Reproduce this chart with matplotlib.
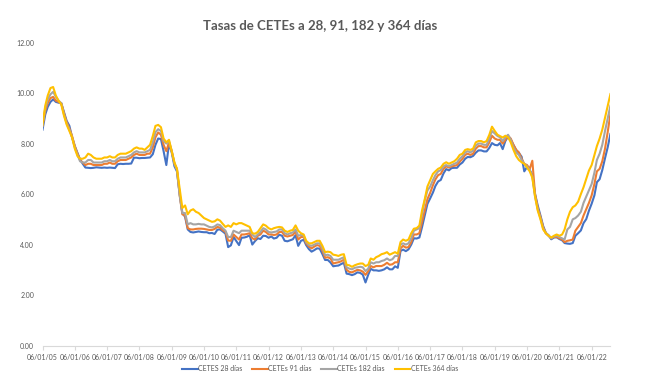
import matplotlib
matplotlib.use("Agg")
import matplotlib.pyplot as plt
import matplotlib.dates as mdates
import pandas as pd
import numpy as np

# Monthly readings, Jan 2005 - Aug 2022
cetes_28 = [
    8.55, 9.15, 9.45, 9.65, 9.75, 9.65, 9.62, 9.60, 9.25, 8.90, 8.70, 8.25,
    7.90, 7.62, 7.38, 7.20, 7.05, 7.04, 7.03, 7.04, 7.06, 7.05, 7.04, 7.05,
    7.04, 7.05, 7.04, 7.03, 7.18, 7.20, 7.19, 7.20, 7.20, 7.21, 7.44, 7.44,
    7.42, 7.43, 7.43, 7.44, 7.45, 7.58, 7.95, 8.20, 8.18, 7.70, 7.15, 8.00,
    7.65, 7.10, 6.90, 6.00, 5.25, 5.10, 4.60, 4.50, 4.48, 4.50, 4.52, 4.50,
    4.49, 4.49, 4.45, 4.46, 4.42, 4.59, 4.60, 4.52, 4.43, 3.90, 3.97, 4.30,
    4.14, 3.98, 4.27, 4.28, 4.31, 4.37, 4.00, 4.14, 4.25, 4.22, 4.35, 4.34,
    4.27, 4.32, 4.24, 4.27, 4.39, 4.35, 4.15, 4.13, 4.17, 4.21, 4.37, 3.95,
    4.15, 4.19, 3.98, 3.82, 3.72, 3.78, 3.85, 3.84, 3.62, 3.39, 3.39, 3.29,
    3.14, 3.16, 3.17, 3.23, 3.28, 2.85, 2.83, 2.79, 2.83, 2.90, 2.88, 2.81,
    2.50, 2.81, 3.04, 2.98, 2.98, 2.96, 2.98, 3.02, 3.10, 3.02, 3.02, 3.14,
    3.08, 3.75, 3.80, 3.74, 3.81, 4.00, 4.25, 4.24, 4.28, 4.69, 5.15, 5.61,
    5.83, 6.06, 6.32, 6.50, 6.56, 6.82, 6.99, 6.94, 7.03, 7.04, 7.04, 7.17,
    7.25, 7.40, 7.47, 7.46, 7.51, 7.64, 7.73, 7.73, 7.69, 7.69, 7.83, 8.02,
    7.95, 7.93, 8.02, 7.78, 8.10, 8.28, 8.15, 7.94, 7.74, 7.63, 7.48, 6.90,
    7.07, 6.95, 6.76, 6.00, 5.55, 5.15, 4.74, 4.46, 4.37, 4.21, 4.28, 4.29,
    4.22, 4.17, 4.06, 4.04, 4.03, 4.06, 4.35, 4.45, 4.56, 4.85, 5.01, 5.34,
    5.62, 5.95, 6.47, 6.59, 6.95, 7.42, 7.85, 8.38,
]
cetes_91 = [
    8.70, 9.30, 9.60, 9.80, 9.85, 9.70, 9.65, 9.60, 9.20, 8.85, 8.60, 8.30,
    7.90, 7.60, 7.35, 7.25, 7.15, 7.20, 7.20, 7.15, 7.15, 7.15, 7.15, 7.20,
    7.20, 7.25, 7.20, 7.20, 7.30, 7.35, 7.35, 7.35, 7.40, 7.45, 7.55, 7.60,
    7.55, 7.55, 7.55, 7.60, 7.60, 7.85, 8.25, 8.44, 8.35, 7.95, 7.70, 8.05,
    7.70, 7.20, 7.00, 5.95, 5.20, 5.15, 4.65, 4.60, 4.60, 4.62, 4.63, 4.63,
    4.62, 4.60, 4.58, 4.58, 4.62, 4.70, 4.67, 4.57, 4.50, 4.16, 4.15, 4.40,
    4.30, 4.20, 4.40, 4.40, 4.42, 4.45, 4.25, 4.20, 4.35, 4.40, 4.55, 4.50,
    4.40, 4.40, 4.38, 4.40, 4.50, 4.50, 4.35, 4.32, 4.35, 4.38, 4.52, 4.20,
    4.30, 4.30, 4.05, 3.92, 3.85, 3.92, 3.98, 3.95, 3.75, 3.48, 3.50, 3.45,
    3.25, 3.28, 3.30, 3.34, 3.40, 3.00, 2.92, 2.90, 2.95, 3.00, 2.98, 2.93,
    2.80, 2.95, 3.15, 3.10, 3.15, 3.15, 3.15, 3.20, 3.28, 3.20, 3.22, 3.30,
    3.30, 3.85, 3.95, 3.88, 3.90, 4.10, 4.40, 4.40, 4.45, 4.90, 5.35, 5.80,
    6.05, 6.35, 6.58, 6.75, 6.80, 7.00, 7.10, 7.05, 7.10, 7.12, 7.15, 7.28,
    7.40, 7.55, 7.60, 7.55, 7.60, 7.80, 7.90, 7.90, 7.85, 7.85, 8.05, 8.31,
    8.20, 8.15, 8.15, 8.00, 8.15, 8.30, 8.20, 7.95, 7.75, 7.65, 7.40, 7.20,
    7.15, 7.00, 7.32, 6.00, 5.45, 5.10, 4.70, 4.45, 4.35, 4.25, 4.30, 4.30,
    4.25, 4.20, 4.10, 4.15, 4.17, 4.20, 4.55, 4.70, 4.85, 5.15, 5.40, 5.65,
    5.95, 6.40, 6.90, 7.00, 7.30, 7.80, 8.45, 9.17,
]
cetes_182 = [
    8.70, 9.40, 9.75, 9.95, 10.05, 9.85, 9.70, 9.60, 9.15, 8.80, 8.55, 8.25,
    7.85, 7.55, 7.30, 7.25, 7.25, 7.35, 7.35, 7.25, 7.25, 7.25, 7.25, 7.30,
    7.30, 7.35, 7.30, 7.30, 7.40, 7.45, 7.45, 7.45, 7.50, 7.55, 7.65, 7.70,
    7.65, 7.65, 7.65, 7.70, 7.75, 8.05, 8.45, 8.57, 8.50, 8.10, 8.00, 8.10,
    7.70, 7.20, 6.95, 5.95, 5.25, 5.25, 4.80, 4.85, 4.80, 4.80, 4.82, 4.80,
    4.80, 4.75, 4.70, 4.68, 4.72, 4.80, 4.77, 4.65, 4.55, 4.30, 4.30, 4.55,
    4.50, 4.45, 4.55, 4.55, 4.55, 4.55, 4.40, 4.30, 4.40, 4.50, 4.65, 4.60,
    4.50, 4.48, 4.50, 4.52, 4.60, 4.60, 4.45, 4.40, 4.45, 4.48, 4.60, 4.35,
    4.38, 4.35, 4.10, 3.98, 3.95, 4.00, 4.05, 4.05, 3.85, 3.58, 3.60, 3.55,
    3.40, 3.40, 3.40, 3.45, 3.50, 3.10, 3.05, 3.02, 3.08, 3.10, 3.12, 3.10,
    2.95, 3.05, 3.30, 3.25, 3.30, 3.30, 3.35, 3.38, 3.45, 3.38, 3.42, 3.55,
    3.55, 4.00, 4.05, 4.00, 4.05, 4.25, 4.55, 4.60, 4.65, 5.20, 5.75, 6.14,
    6.30, 6.55, 6.75, 6.90, 6.95, 7.10, 7.15, 7.10, 7.15, 7.20, 7.25, 7.40,
    7.50, 7.65, 7.70, 7.65, 7.72, 7.92, 8.00, 8.00, 7.95, 7.95, 8.20, 8.50,
    8.40, 8.30, 8.25, 8.10, 8.25, 8.35, 8.15, 7.85, 7.65, 7.55, 7.35, 7.20,
    7.10, 6.95, 6.70, 5.90, 5.40, 5.05, 4.65, 4.45, 4.35, 4.25, 4.32, 4.35,
    4.30, 4.25, 4.20, 4.60, 4.70, 5.00, 5.05, 5.15, 5.30, 5.65, 5.90, 6.14,
    6.40, 6.85, 7.35, 7.60, 7.95, 8.50, 9.00, 9.50,
]
cetes_364 = [
    8.75, 9.50, 9.90, 10.20, 10.24, 9.90, 9.70, 9.55, 9.10, 8.75, 8.50, 8.25,
    7.80, 7.50, 7.40, 7.40, 7.45, 7.60, 7.55, 7.45, 7.40, 7.40, 7.40, 7.45,
    7.45, 7.50, 7.45, 7.45, 7.55, 7.60, 7.60, 7.60, 7.65, 7.70, 7.80, 7.85,
    7.80, 7.80, 7.75, 7.85, 7.95, 8.30, 8.70, 8.74, 8.65, 8.20, 8.05, 8.15,
    7.70, 7.25, 7.00, 6.20, 5.45, 5.55, 5.20, 5.35, 5.40, 5.30, 5.25, 5.15,
    5.05, 5.00, 4.95, 4.90, 4.92, 5.00, 4.95, 4.82, 4.70, 4.76, 4.70, 4.85,
    4.80, 4.85, 4.85, 4.80, 4.75, 4.70, 4.45, 4.43, 4.50, 4.65, 4.80, 4.75,
    4.65, 4.60, 4.65, 4.68, 4.70, 4.68, 4.55, 4.50, 4.55, 4.58, 4.76, 4.55,
    4.45, 4.40, 4.15, 4.05, 4.05, 4.10, 4.15, 4.15, 3.95, 3.70, 3.72, 3.70,
    3.60, 3.58, 3.55, 3.60, 3.62, 3.20, 3.18, 3.12, 3.18, 3.22, 3.25, 3.25,
    3.15, 3.20, 3.45, 3.40, 3.50, 3.55, 3.62, 3.65, 3.70, 3.60, 3.65, 3.70,
    3.64, 4.10, 4.20, 4.15, 4.20, 4.45, 4.63, 4.65, 4.75, 5.35, 5.80, 6.30,
    6.55, 6.80, 6.90, 7.00, 7.05, 7.20, 7.26, 7.20, 7.25, 7.30, 7.40, 7.55,
    7.60, 7.75, 7.78, 7.75, 7.80, 8.05, 8.10, 8.10, 8.05, 8.10, 8.35, 8.67,
    8.50, 8.35, 8.30, 8.24, 8.31, 8.25, 8.05, 7.75, 7.50, 7.35, 7.26, 7.20,
    7.05, 6.90, 6.65, 5.90, 5.35, 5.00, 4.60, 4.45, 4.35, 4.28, 4.35, 4.40,
    4.35, 4.40, 4.60, 5.00, 5.30, 5.48, 5.55, 5.70, 6.00, 6.27, 6.60, 6.93,
    7.15, 7.55, 7.90, 8.20, 8.55, 9.03, 9.50, 9.96,
]
series_names = ["CETES 28 días", "CETEs 91 días", "CETEs 182 días", "CETEs 364 días"]
tick_years = list(range(2005, 2023))
title = "Tasas de CETEs a 28, 91, 182 y 364 días"

colors = ["#4472C4", "#ED7D31", "#A5A5A5", "#FFC000"]

n = len(cetes_28)
dates = pd.date_range(start="2005-01-01", periods=n, freq="MS") + pd.Timedelta(days=5)

fig = plt.figure(figsize=(6.48, 3.87), dpi=100)
ax = fig.add_axes([0.0656, 0.107, 0.8764, 0.783])

for vals, name, c in zip([cetes_28, cetes_91, cetes_182, cetes_364], series_names, colors):
    ax.plot(dates, vals, color=c, lw=1.5, label=name, solid_joinstyle="round")

ax.set_xlim(dates[0], dates[-1])
ax.set_ylim(0, 12)
ax.set_yticks(np.arange(0, 12.01, 2))
ax.set_yticklabels([f"{v:.2f}" for v in np.arange(0, 12.01, 2)])
ticks = [pd.Timestamp(year=y, month=1, day=6) for y in tick_years]
ax.set_xticks(ticks)
ax.set_xticklabels([t.strftime("%d/%m/%y") for t in ticks])

for s in ["top", "right", "left"]:
    ax.spines[s].set_visible(False)
ax.spines["bottom"].set_color("#D9D9D9")
ax.spines["bottom"].set_linewidth(0.8)
ax.tick_params(axis="y", length=0, labelsize=5, labelcolor="#595959", pad=6)
ax.tick_params(axis="x", length=3, color="#D9D9D9", labelsize=5, labelcolor="#595959", pad=3)
for lab in ax.get_xticklabels() + ax.get_yticklabels():
    lab.set_family("Lato")

fig.text(0.494, 0.933, title, ha="center", va="center", fontsize=9.5,
         fontweight="bold", color="#595959", family="Lato")

leg = fig.legend(loc="center", bbox_to_anchor=(0.494, 0.047), ncol=4, frameon=False,
                 prop={"family": "Lato", "size": 5}, handlelength=2.2, columnspacing=1.4,
                 handletextpad=0.1)
for t in leg.get_texts():
    t.set_color("#595959")

fig.savefig("out.png", dpi=100)
